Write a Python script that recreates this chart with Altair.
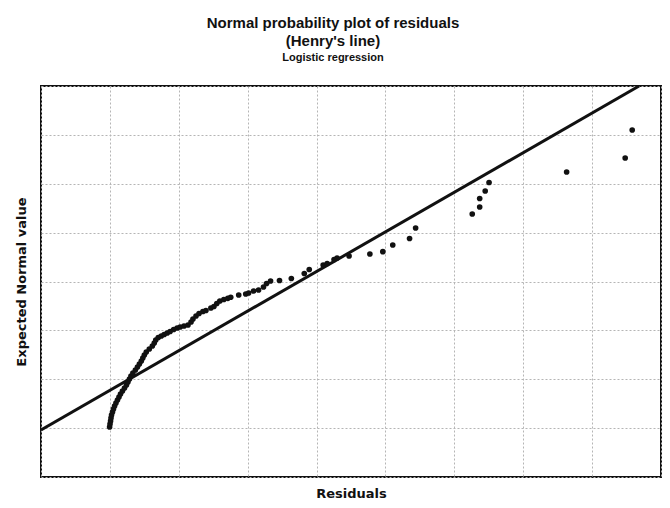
import altair as alt
import pandas as pd

# Residuals (x) and expected normal values (y)
residuals = [-0.502, -0.499, -0.495, -0.492, -0.488, -0.481, -0.474, -0.466, -0.456, -0.445,
             -0.434, -0.423, -0.409, -0.394, -0.380, -0.369, -0.358, -0.347, -0.333, -0.315,
             -0.300, -0.286, -0.272, -0.261, -0.250, -0.236, -0.214, -0.192, -0.178, -0.167,
             -0.149, -0.127, -0.106, -0.084, -0.063, -0.037, -0.012, 0.010, 0.038, 0.067,
             0.089, 0.103, 0.125, 0.147, 0.175, 0.197, 0.233, 0.255, 0.276, 0.298,
             0.327, 0.356, 0.377, 0.435, 0.486, 0.507, 0.543, 0.579, 0.615, 0.637,
             0.666, 0.731, 0.817, 0.911, 0.947, 1.048, 1.077, 1.127, 1.149, 1.236,
             1.387, 1.481, 1.553, 1.675, 1.719, 2.130, 2.184, 2.184, 2.224, 2.252,
             2.815, 3.240, 3.291]
expected = [-2.977, -2.915, -2.854, -2.793, -2.731, -2.670, -2.609, -2.547, -2.486, -2.424,
            -2.363, -2.302, -2.240, -2.179, -2.118, -2.056, -1.995, -1.933, -1.872, -1.811,
            -1.749, -1.688, -1.627, -1.565, -1.504, -1.442, -1.381, -1.320, -1.258, -1.197,
            -1.146, -1.115, -1.084, -1.054, -1.023, -0.982, -0.951, -0.931, -0.910, -0.890,
            -0.829, -0.767, -0.706, -0.655, -0.614, -0.593, -0.542, -0.511, -0.450, -0.399,
            -0.368, -0.344, -0.323, -0.276, -0.256, -0.235, -0.194, -0.174, -0.112, -0.041,
            0.010, 0.020, 0.061, 0.164, 0.246, 0.338, 0.368, 0.450, 0.481, 0.522,
            0.563, 0.610, 0.747, 0.880, 1.095, 1.381, 1.524, 1.698, 1.852, 2.026,
            2.240, 2.527, 3.100]

# Henry's line end points
line_x = [-1.0, 3.341]
line_y = [-3.038, 4.0]

x_ticks = [-1.0, -0.5, 0.0, 0.5, 1.0, 1.5, 2.0, 2.5, 3.0, 3.5]
y_ticks = [-4, -3, -2, -1, 0, 1, 2, 3, 4]

pts = pd.DataFrame({"Residuals": residuals, "Expected": expected})
ln = pd.DataFrame({"Residuals": line_x, "Expected": line_y})

FONT = "Liberation Sans"
AFONT = "DejaVu Sans"

xs = alt.Scale(domain=[x_ticks[0], x_ticks[-1]], nice=False, zero=False)
ys = alt.Scale(domain=[y_ticks[0], y_ticks[-1]], nice=False, zero=False)

xax = alt.Axis(values=x_ticks, labels=False, ticks=False, domain=False, grid=True,
               gridDash=[2, 2], gridColor="#b5b5b5", gridWidth=1,
               title="Residuals", titleFont=AFONT, titleFontSize=13, titleFontWeight="bold",
               titleColor="#111", titlePadding=10)
yax = alt.Axis(values=y_ticks, labels=False, ticks=False, domain=False, grid=True,
               gridDash=[2, 2], gridColor="#b5b5b5", gridWidth=1,
               title="Expected Normal value", titleFont=AFONT, titleFontSize=13,
               titleFontWeight="bold", titleColor="#111", titlePadding=13)

points = alt.Chart(pts).mark_circle(size=32, color="#111", opacity=1).encode(
    x=alt.X("Residuals:Q", scale=xs, axis=xax),
    y=alt.Y("Expected:Q", scale=ys, axis=yax),
)

henry = alt.Chart(ln).mark_line(color="#111", strokeWidth=3, clip=True).encode(
    x=alt.X("Residuals:Q", scale=xs),
    y=alt.Y("Expected:Q", scale=ys),
)

chart = alt.layer(henry, points).properties(
    width=620,
    height=391,
    background="white",
    autosize=alt.AutoSizeParams(type="none"),
    padding={"left": 33, "top": 78, "right": 1, "bottom": 23},
    title=alt.TitleParams(
        text=["Normal probability plot of residuals", "(Henry's line)"],
        subtitle="Logistic regression",
        font=FONT, fontSize=15, fontWeight="bold", color="#111", lineHeight=18,
        subtitleFont=FONT, subtitleFontSize=11, subtitleFontWeight="bold",
        subtitleColor="#111", subtitlePadding=3, offset=23, anchor="middle", dx=-18,
    ),
).configure_view(stroke="#111", strokeWidth=2)

chart.save("out.html", embed_options={"renderer": "svg", "actions": False})
